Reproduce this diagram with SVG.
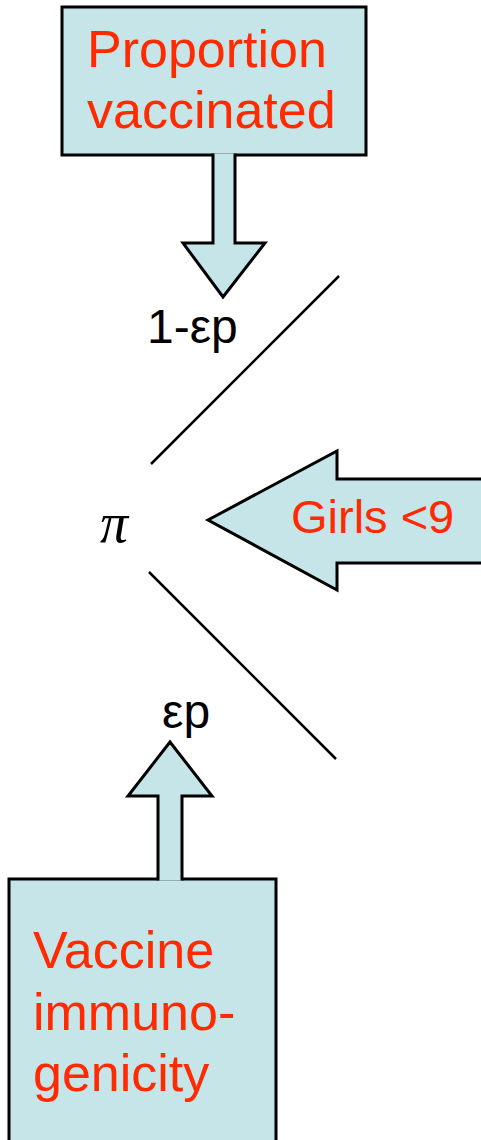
<svg xmlns="http://www.w3.org/2000/svg" width="481" height="1140" viewBox="0 0 481 1140">
<style>
.shape{fill:#c5e5e8;stroke:#000;stroke-width:3;stroke-linejoin:miter}
.red{fill:#ff2a00;font-family:"Liberation Sans",Arial,sans-serif}
.blk{fill:#000;font-family:"Liberation Sans",Arial,sans-serif}
.line{stroke:#000;stroke-width:2.5;fill:none}
</style>
<rect width="481" height="1140" fill="#fff"/>
<g id="node-proportion">
<rect class="shape" x="62" y="7" width="304" height="148"/>
<text class="red" x="87" y="67" font-size="52">Proportion</text>
<text class="red" x="87" y="128" font-size="52">vaccinated</text>
</g>
<g id="node-girls">
<path class="shape" d="M484,479 L337,479 L337,451 L208,520 L337,590 L337,563 L484,563"/>
<text class="red" x="291" y="533" font-size="47">Girls &lt;9</text>
</g>
<g id="node-vaccine">
<rect class="shape" x="9" y="879" width="267" height="270"/>
<text class="red" x="33" y="968" font-size="52">Vaccine</text>
<text class="red" x="33" y="1030" font-size="52">immuno-</text>
<text class="red" x="33" y="1091" font-size="52">genicity</text>
</g>
<g id="connectors">
<line class="line" x1="151" y1="464" x2="339" y2="276"/>
<line class="line" x1="149" y1="572" x2="336" y2="759"/>
<path class="shape" d="M213,153.5 L213,243 L183,243 L223,297 L265,243 L235,243 L235,153.5"/>
<path class="shape" d="M158,880.5 L158,796 L128,796 L170,742 L212,796 L182,796 L182,880.5"/>
</g>
<g id="labels">
<text class="blk" x="147" y="343" font-size="48">1-εp</text>
<text x="100" y="542" font-size="56" font-style="italic" font-family="'Liberation Serif','Times New Roman',serif">π</text>
<text class="blk" x="162" y="728" font-size="48">εp</text>
</g>
</svg>
